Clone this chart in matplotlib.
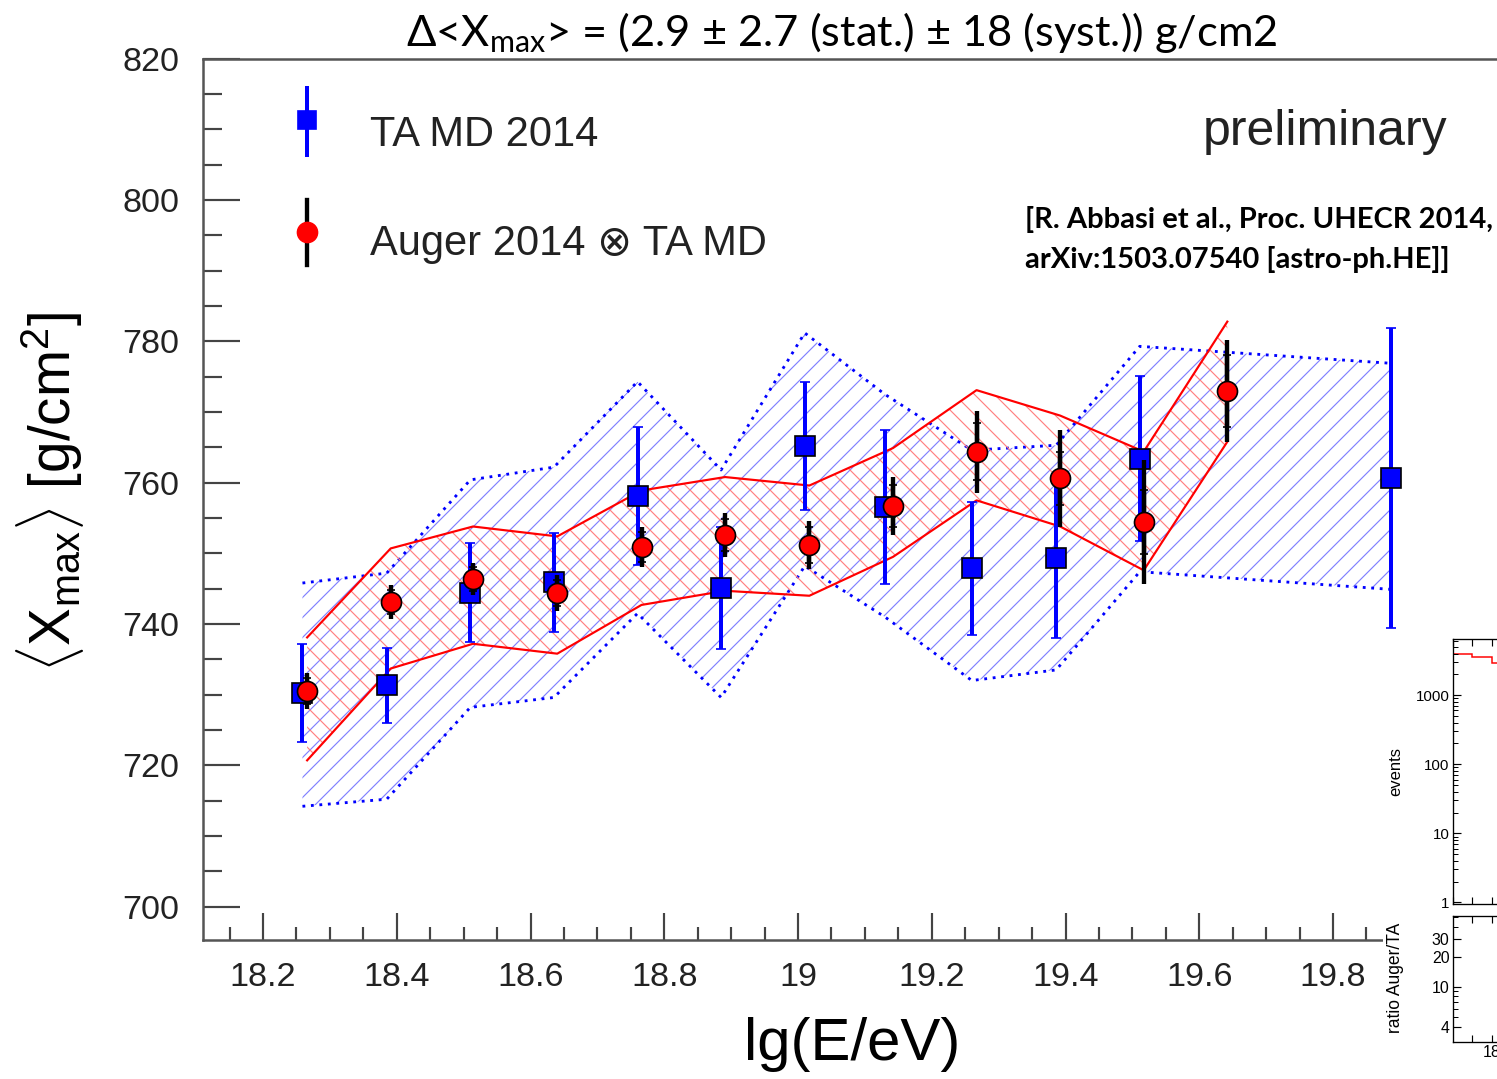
import matplotlib
matplotlib.use('Agg')
import matplotlib.pyplot as plt
from matplotlib.patches import Rectangle
from matplotlib.ticker import MultipleLocator, FixedLocator, NullFormatter, FormatStrFormatter, NullLocator

# ---- data ----
# TA MD 2014 <Xmax> with error and its systematic band
lgE_ta = [18.259, 18.385, 18.51, 18.635, 18.76, 18.885, 19.01, 19.13, 19.26, 19.386, 19.511, 19.887]
xmax_ta = [730.2, 731.3, 744.4, 745.9, 758.1, 745.1, 765.2, 756.5, 747.9, 749.3, 763.4, 760.7]
err_ta = [6.9, 5.3, 7.0, 7.0, 9.8, 8.6, 9.0, 10.9, 9.4, 11.3, 11.7, 21.2]
ta_band_hi = [745.8, 747.2, 760.4, 762.2, 774.3, 761.8, 781.2, 772.5, 764.6, 765.3, 779.3, 776.9]
ta_band_lo = [714.2, 715.2, 728.2, 729.6, 741.5, 729.6, 748.2, 741.0, 732.0, 733.5, 747.4, 744.9]

# Auger 2014 folded with TA MD, with two error components and its band
lgE_aug = [18.266, 18.391, 18.514, 18.64, 18.766, 18.891, 19.017, 19.142, 19.267, 19.392, 19.517, 19.642]
xmax_aug = [730.5, 743.1, 746.4, 744.4, 750.9, 752.6, 751.2, 756.7, 764.4, 760.6, 754.4, 773.0]
err_aug_in = [1.8, 1.7, 1.7, 1.8, 2.1, 2.3, 2.5, 3.0, 4.0, 3.8, 4.5, 5.1]
err_aug_out = [2.5, 2.4, 2.3, 2.5, 2.8, 3.1, 3.4, 4.1, 5.8, 6.8, 8.8, 7.2]
aug_band_hi = [738.1, 750.7, 753.8, 752.4, 758.9, 760.8, 759.6, 764.9, 773.1, 769.5, 764.4, 782.8]
aug_band_lo = [720.7, 733.7, 737.2, 735.8, 742.7, 744.7, 744.0, 749.5, 757.5, 753.8, 747.6, 765.8]

# cropped inset in the lower right corner
ev_edges = [17.8, 17.9, 18.0, 18.1]
ev_counts = [3930, 3560, 2910]

title = r'Δ<X$_{\mathsf{max}}$> = (2.9 ± 2.7 (stat.) ± 18 (syst.)) g/cm2'
ref_lines = ['[R. Abbasi et al., Proc. UHECR 2014,', 'arXiv:1503.07540 [astro-ph.HE]]']

plt.rcParams['font.family'] = ['Liberation Sans', 'DejaVu Sans']
plt.rcParams['mathtext.fontset'] = 'custom'
plt.rcParams['mathtext.rm'] = 'Liberation Sans'
plt.rcParams['mathtext.sf'] = 'Lato'
plt.rcParams['hatch.linewidth'] = 0.7

W, H, DPI = 1497, 1079, 120
fig = plt.figure(figsize=(W / DPI, H / DPI), dpi=DPI)


def fx(px):
    return px / W


def fy(py):
    return 1 - py / H


# main axes, runs past the right edge of the picture
ax = fig.add_axes([fx(203), fy(940), fx(1497) - fx(203), fy(58.8) - fy(940)])
ax.set_xlim(18.2 - 60 / 668.75, 18.2 + 1234 / 668.75)
ax.set_ylim(820 - 881.2 / 7.065, 820)

# bands
ax.fill_between(lgE_ta, ta_band_lo, ta_band_hi, facecolor='none', edgecolor='#8080ff',
                hatch='//', linewidth=0, zorder=1)
ax.plot(lgE_ta, ta_band_hi, color='blue', ls=(0, (1, 2)), lw=1.7, zorder=2)
ax.plot(lgE_ta, ta_band_lo, color='blue', ls=(0, (1, 2)), lw=1.7, zorder=2)
ax.fill_between(lgE_aug, aug_band_lo, aug_band_hi, facecolor='none', edgecolor='#ff8080',
                hatch='\\\\', linewidth=0, zorder=3)
ax.plot(lgE_aug, aug_band_hi, color='red', lw=1.3, zorder=4)
ax.plot(lgE_aug, aug_band_lo, color='red', lw=1.3, zorder=4)

# points
ax.errorbar(lgE_ta, xmax_ta, yerr=err_ta, fmt='s', ms=12, mfc='blue', mec='black', mew=1.0,
            ecolor='blue', elinewidth=2.4, capsize=2.8, capthick=1.8, zorder=5)
ax.errorbar(lgE_aug, xmax_aug, yerr=err_aug_out, fmt='none', ecolor='black',
            elinewidth=2.6, capsize=0, zorder=6)
ax.errorbar(lgE_aug, xmax_aug, yerr=err_aug_in, fmt='o', ms=12, mfc='red', mec='black', mew=1.0,
            ecolor='black', elinewidth=2.6, capsize=2.2, capthick=1.5, zorder=7)

# axes style
for side in ['left', 'bottom', 'top']:
    ax.spines[side].set_color('#555555')
    ax.spines[side].set_linewidth(1.5)
ax.spines['right'].set_visible(False)
ax.xaxis.set_major_locator(MultipleLocator(0.2))
ax.xaxis.set_minor_locator(MultipleLocator(0.05))
ax.xaxis.set_major_formatter(FormatStrFormatter('%g'))
ax.yaxis.set_major_locator(MultipleLocator(20))
ax.yaxis.set_minor_locator(MultipleLocator(5))
ax.tick_params(axis='x', which='major', direction='in', length=16, width=1.3, color='#444444',
               pad=13, labelsize=20.5, labelcolor='#222222')
ax.tick_params(axis='x', which='minor', direction='in', length=8, width=1.3, color='#444444')
ax.tick_params(axis='y', which='major', direction='in', length=22, width=1.3, color='#444444',
               pad=14, labelsize=20.5, labelcolor='#222222')
ax.tick_params(axis='y', which='minor', direction='in', length=11.5, width=1.3, color='#444444')


# legend drawn by hand
def axpt(px, py):
    return (px - 203) / 1294, (940 - py) / 881.2


x0, y0 = axpt(307, 88)
_, y1 = axpt(307, 155)
_, ym = axpt(307, 120)
ax.plot([x0, x0], [y0, y1], color='blue', lw=2.4, transform=ax.transAxes, zorder=8)
ax.plot([x0], [ym], marker='s', ms=11, color='blue', transform=ax.transAxes, zorder=8)
_, y0 = axpt(307, 200)
_, y1 = axpt(307, 265)
_, ym = axpt(307, 232)
ax.plot([x0, x0], [y0, y1], color='black', lw=2.6, transform=ax.transAxes, zorder=8)
ax.plot([x0], [ym], marker='o', ms=12, color='red', transform=ax.transAxes, zorder=8)
fig.text(fx(370), fy(146), 'TA MD 2014', fontsize=25, color='#222222', va='baseline')
fig.text(fx(370), fy(255), 'Auger 2014 ⊗ TA MD', fontsize=25, color='#222222', va='baseline')
fig.text(fx(1203), fy(145), 'preliminary', fontsize=30, color='#222222', va='baseline')

# axis titles
fig.text(fx(852), fy(1060), 'lg(E/eV)', fontsize=36, ha='center', va='baseline')
fig.text(fx(50), fy(492), r'$\langle$X$_{\rm max}\rangle$ [g/cm$^{2}$]', fontsize=34,
         rotation=90, ha='center', va='center')

# slide annotations
fig.text(fx(842), fy(46), title, fontsize=26, family='Lato', ha='center', va='baseline')
fig.text(fx(1025), fy(228), ref_lines[0], fontsize=17.5, family='Lato', weight='bold', va='baseline')
fig.text(fx(1025), fy(268), ref_lines[1], fontsize=17.5, family='Lato', weight='bold', va='baseline')

# white box of the pasted inset
fig.patches.append(Rectangle((fx(1383), 0), 1 - fx(1383), fy(632), transform=fig.transFigure,
                             facecolor='white', edgecolor='none', zorder=1))

ax_ev = fig.add_axes([fx(1453), fy(904), fx(1650) - fx(1453), fy(639) - fy(904)], zorder=2)
ax_ev.stairs(ev_counts, ev_edges, color='red', lw=0.9)
ax_ev.set_yscale('log')
ax_ev.set_ylim(0.95, 6500)
ax_ev.set_xlim(17.8, 17.8 + 197 / 193.0)
ax_ev.xaxis.set_major_locator(MultipleLocator(0.1))
ax_ev.xaxis.set_minor_locator(NullLocator())
ax_ev.set_xticklabels([])
ax_ev.tick_params(axis='x', which='both', direction='in', top=True, length=4, width=0.7)
ax_ev.tick_params(axis='y', which='major', direction='in', length=5, width=0.7, labelsize=9, pad=2)
ax_ev.tick_params(axis='y', which='minor', direction='in', length=3, width=0.6)
ax_ev.yaxis.set_major_formatter(FormatStrFormatter('%d'))
for s in ax_ev.spines.values():
    s.set_linewidth(0.8)
fig.text(fx(1396), fy(772), 'events', fontsize=10, rotation=90, ha='center', va='center')

ax_rt = fig.add_axes([fx(1453), fy(1042), fx(1650) - fx(1453), fy(916) - fy(1042)], zorder=2)
ax_rt.set_yscale('log')
ax_rt.set_ylim(2.8, 51)
ax_rt.set_xlim(17.8, 17.8 + 197 / 193.0)
ax_rt.yaxis.set_major_locator(FixedLocator([4, 10, 20, 30]))
ax_rt.yaxis.set_minor_locator(FixedLocator([5, 6, 7, 8, 9, 40, 50]))
ax_rt.yaxis.set_major_formatter(FormatStrFormatter('%d'))
ax_rt.yaxis.set_minor_formatter(NullFormatter())
ax_rt.xaxis.set_major_locator(FixedLocator([18.0]))
ax_rt.xaxis.set_minor_locator(FixedLocator([17.9, 18.1, 18.2]))
ax_rt.xaxis.set_major_formatter(FormatStrFormatter('%g'))
ax_rt.tick_params(axis='x', which='both', direction='in', top=True, length=4, width=0.7,
                  labelsize=9.5, pad=2)
ax_rt.tick_params(axis='y', which='major', direction='in', length=5, width=0.7, labelsize=9.5, pad=2)
ax_rt.tick_params(axis='y', which='minor', direction='in', length=3, width=0.6)
for s in ax_rt.spines.values():
    s.set_linewidth(0.8)
fig.text(fx(1395), fy(978), 'ratio Auger/TA', fontsize=10.5, rotation=90, ha='center', va='center')

fig.savefig('out.png', dpi=DPI)
